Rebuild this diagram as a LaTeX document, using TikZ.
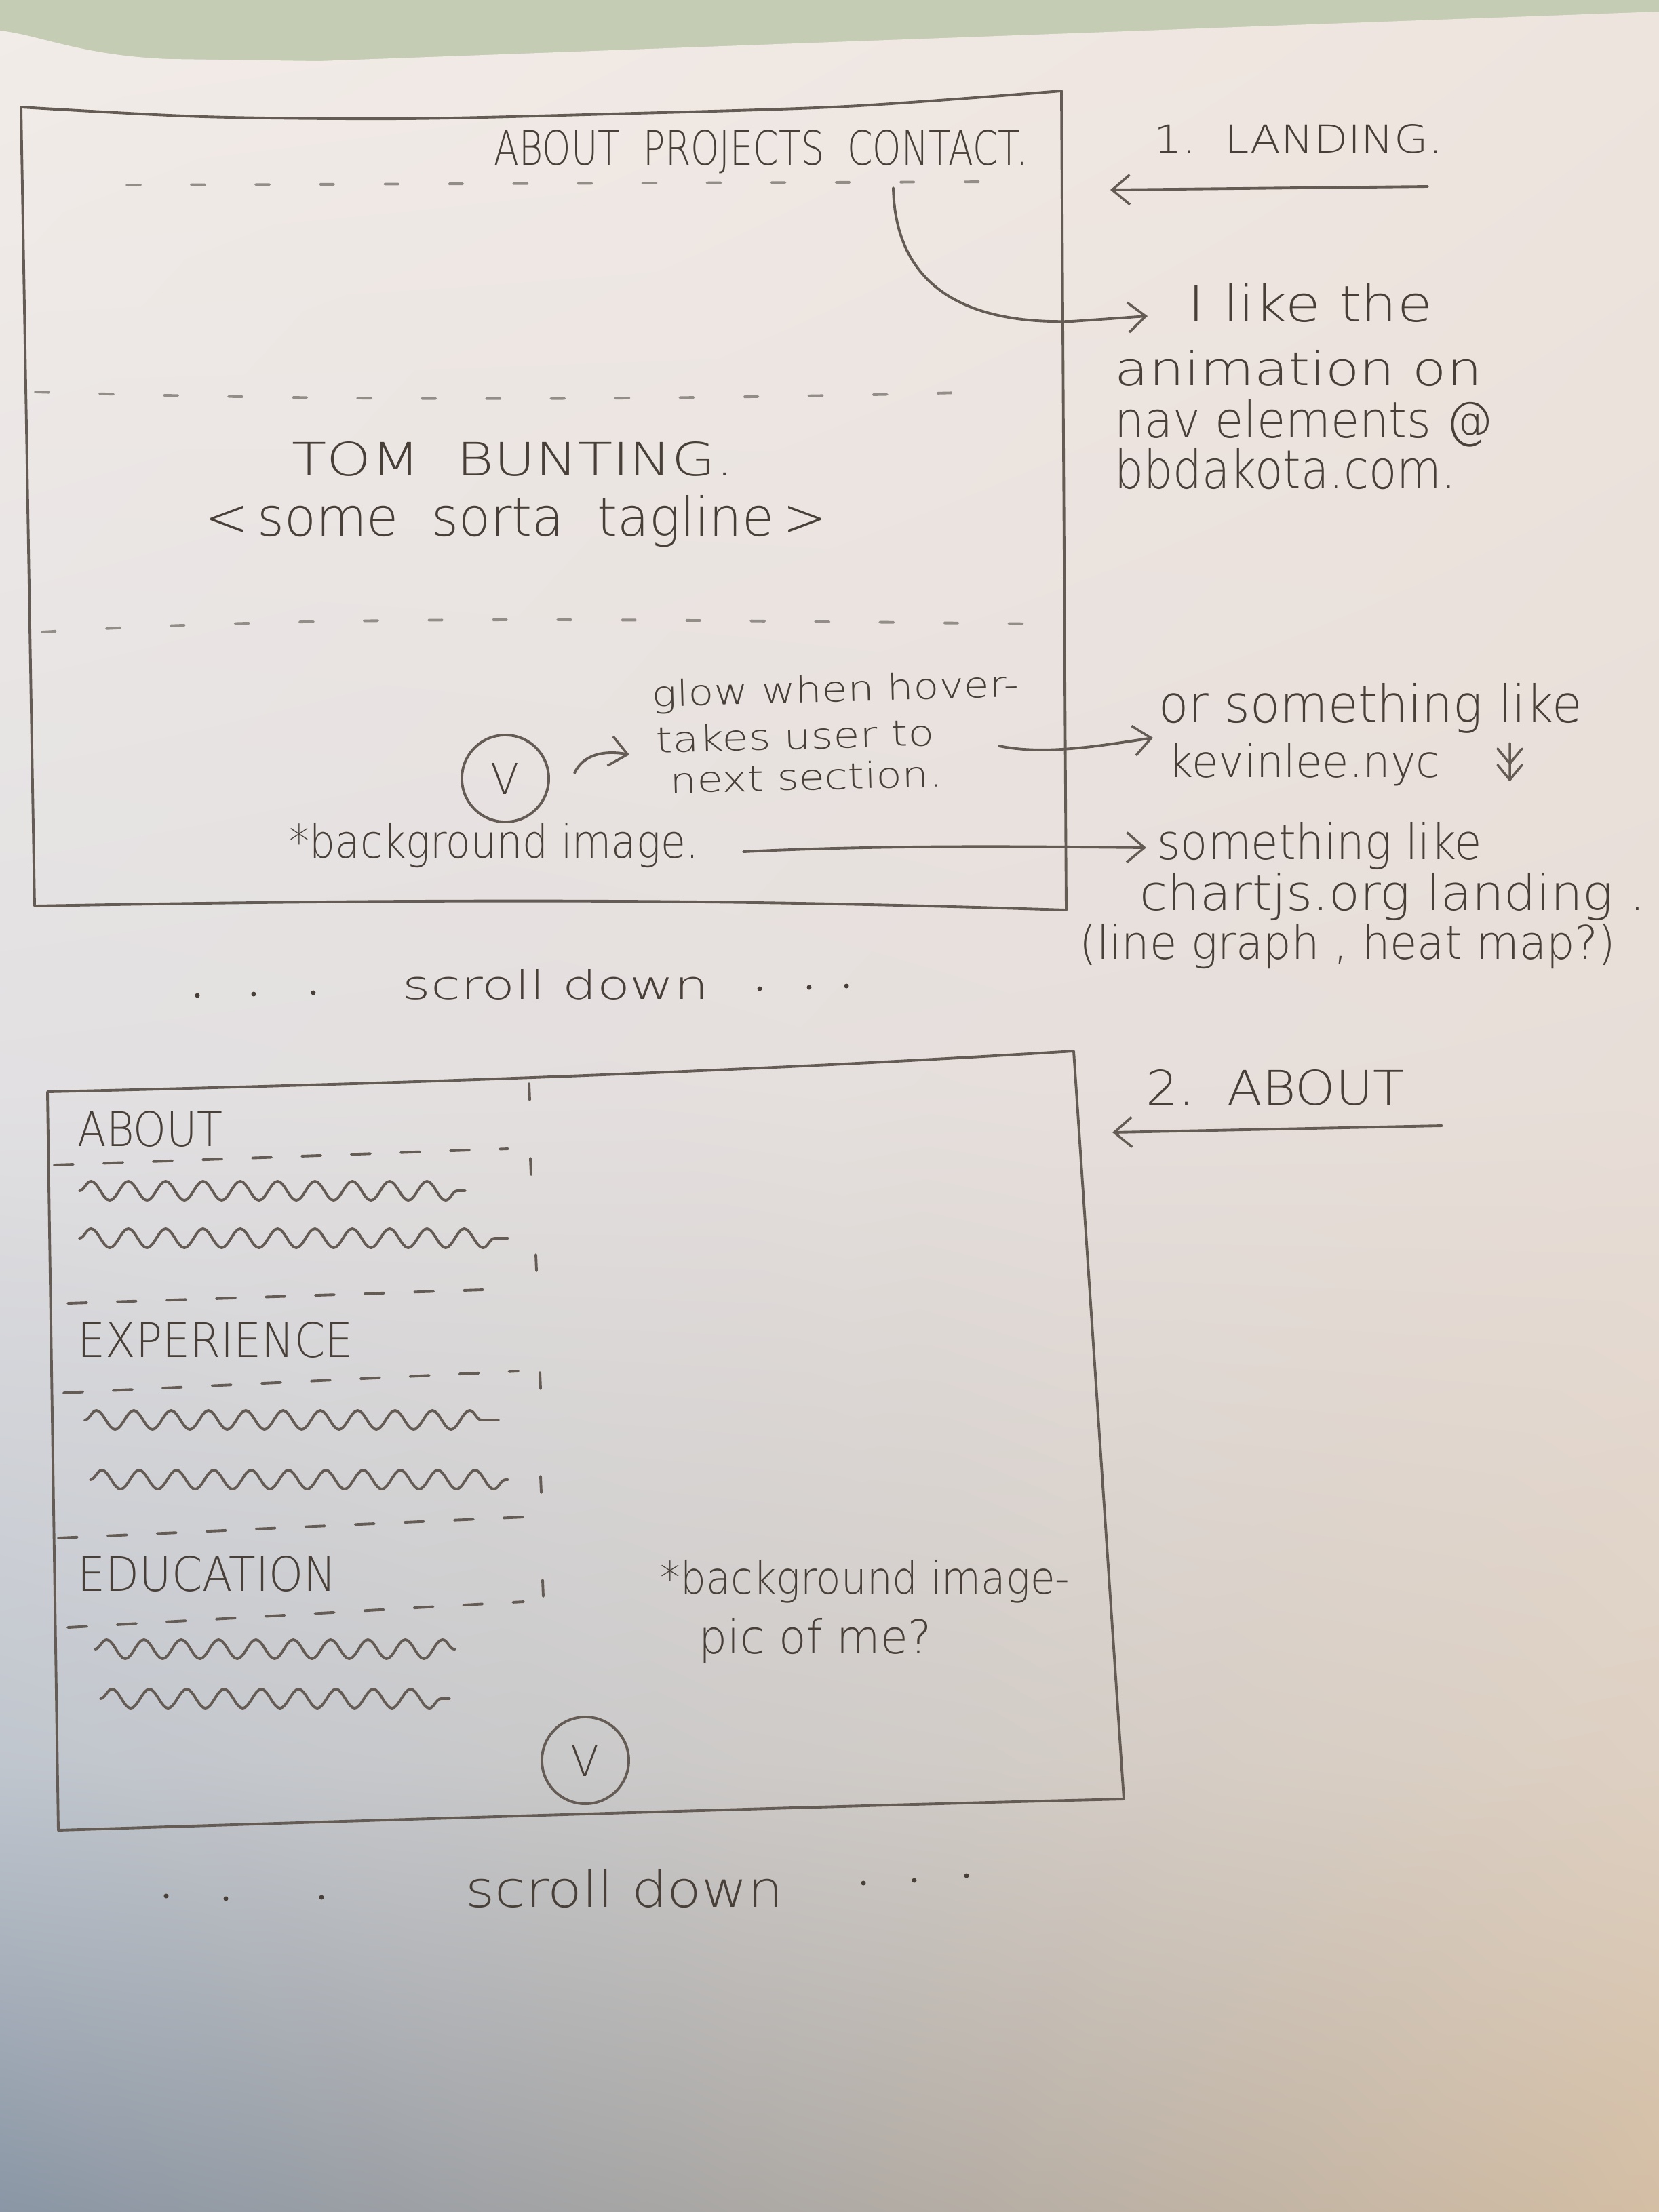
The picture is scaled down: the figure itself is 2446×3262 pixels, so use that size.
\documentclass[tikz,border=0pt]{standalone}
\usepackage{fontspec}
\setmainfont{DejaVuSans-ExtraLight.ttf}
\usepackage{graphicx}
\usetikzlibrary{arrows.meta,decorations.pathmorphing,shadings,calc}

\definecolor{pencil}{RGB}{100,92,84}
\definecolor{ink}{RGB}{72,64,56}
\definecolor{wall}{RGB}{196,204,180}

% hand-lettered text squeezed to a given width and height
\newcommand{\hw}[3]{\resizebox{#1}{#2}{#3}}

\tikzset{
  pen/.style={draw=pencil, line width=1.1pt, line cap=round, line join=round},
  faint/.style={pen, draw=pencil!70, dash pattern=on 0.2cm off 0.75cm},
  gaps/.style={pen, dash pattern=on 0.28cm off 0.45cm},
  lbl/.style={anchor=base west, inner sep=0pt, text=ink},
  barb/.style={-{Straight Barb[length=0.26cm,width=0.44cm,line width=1pt]}},
  wave/.style={pen, decorate, decoration={snake, segment length=0.55cm, amplitude=0.14cm}},
  btn/.style={circle, draw=pencil, line width=1.1pt, minimum size=1.28cm, inner sep=0pt, text=ink},
}

\begin{document}
\begin{tikzpicture}[x=0.01cm,y=-0.01cm]
\useasboundingbox (0,0) rectangle (2446,3262);

% ---------- wall and sheet of paper ----------
\fill[wall] (0,0) rectangle (2446,3262);
\shade[shading=bilinear interpolation,
  upper left={rgb,255:red,242;green,236;blue,232}, upper right={rgb,255:red,238;green,228;blue,222},
  lower left={rgb,255:red,226;green,224;blue,226}, lower right={rgb,255:red,232;green,222;blue,216}]
  (0,45) .. controls (60,52) and (120,82) .. (250,87) -- (470,90) -- (2446,17) -- (2446,1601) -- (0,1601) -- cycle;
\shade[shading=bilinear interpolation,
  upper left={rgb,255:red,226;green,224;blue,226}, upper right={rgb,255:red,232;green,222;blue,216},
  lower left={rgb,255:red,192;green,198;blue,206}, lower right={rgb,255:red,222;green,208;blue,194}]
  (0,1600) rectangle (2446,2601);
\shade[shading=bilinear interpolation,
  upper left={rgb,255:red,192;green,198;blue,206}, upper right={rgb,255:red,222;green,208;blue,194},
  lower left={rgb,255:red,138;green,150;blue,165}, lower right={rgb,255:red,212;green,190;blue,164}]
  (0,2600) rectangle (2446,3262);

% ================= 1. landing page =================
\draw[pen] plot[smooth] coordinates {(31,158) (300,172) (593,175) (900,168) (1248,157) (1565,134)}
  -- (1572,1342) .. controls (1200,1330) and (800,1322) .. (51,1336) -- cycle;

\node[lbl] (nav) at (728,243) {\hw{7.86cm}{0.52cm}{ABOUT~~PROJECTS~~CONTACT.}};
\draw[faint] (187,273) -- (1473,268);
\draw[faint] (52,578) .. controls (500,592) and (1000,590) .. (1456,578);
\draw[faint] (62,932) .. controls (500,905) and (1000,915) .. (1540,920);

\node[lbl] (name) at (430,701) {\hw{6.51cm}{0.5cm}{TOM~~BUNTING.}};
\node[lbl] (tag) at (302,790) {\hw{9.15cm}{0.6cm}{<\,some~~sorta~~tagline\,>}};

\node[btn] (btn1) at (745,1148) {\hw{0.42cm}{0.46cm}{V}};
\node[lbl, rotate=1.5] (glow) at (961,1042) {\hw{5.41cm}{0.4cm}{glow when hover-}};
\node[lbl, rotate=1.5] (takes) at (967,1110) {\hw{4.1cm}{0.4cm}{takes user to}};
\node[lbl, rotate=1.5] (next) at (988,1170) {\hw{4.01cm}{0.4cm}{next section.}};
\coordinate (glowtip) at (928,1113);
\draw[pen, barb] (btn1.east) ++(36,-8) .. controls (860,1112) and (892,1106) .. (glowtip);

\node[lbl] (bg1) at (426,1265) {\hw{6.03cm}{0.52cm}{*background image.}};

\node[lbl] (scroll1) at (593,1473) {\hw{4.51cm}{0.44cm}{scroll down}};
\foreach \p in {(291,1468),(374,1466),(462,1464),(1120,1458),(1193,1456),(1248,1454)}
  \fill[ink] \p circle[radius=0.035cm];

% ---------- notes beside the landing page ----------
\node[lbl] (step1) at (1701,225) {\hw{4.25cm}{0.42cm}{1.~~LANDING.}};
\coordinate (land0) at (2105,275);
\coordinate (land1) at (1637,280);
\draw[pen, barb] (land0) -- (land1);

\node[lbl] (like1) at (1751,474) {\hw{3.6cm}{0.56cm}{I like the}};
\node[lbl] (like2) at (1643,568) {\hw{5.41cm}{0.52cm}{animation on}};
\node[lbl] (like3) at (1643,645) {\hw{5.57cm}{0.56cm}{nav elements @}};
\node[lbl] (like4) at (1643,720) {\hw{5.03cm}{0.6cm}{bbdakota.com.}};
\coordinate (navfrom) at (1317,277);
\coordinate (navto) at (1692,466);
\draw[pen, barb] (navfrom) .. controls (1320,420) and (1420,478) .. (1580,474) -- (navto);

\node[lbl] (kev1) at (1708,1065) {\hw{6.24cm}{0.58cm}{or something like}};
\node[lbl] (kev2) at (1722,1146) {\hw{4.0cm}{0.5cm}{kevinlee.nyc}};
\coordinate (kevfrom) at (1473,1100);
\coordinate (kevto) at (1700,1088);
\draw[pen, barb] (kevfrom) .. controls (1540,1114) and (1620,1100) .. (kevto);
% double-chevron scroll mark
\draw[pen, line width=1pt] (2226,1096) -- (2226,1150)
  (2208,1104) -- (2226,1126) -- (2244,1104)
  (2208,1128) -- (2226,1150) -- (2244,1128);

\node[lbl] (chart1) at (1706,1267) {\hw{4.78cm}{0.55cm}{something like}};
\node[lbl] (chart2) at (1680,1342) {\hw{7.45cm}{0.55cm}{chartjs.org~landing~.}};
\node[lbl] (chart3) at (1591,1414) {\hw{7.9cm}{0.52cm}{(line graph~, heat map?)}};
\coordinate (bgfrom) at (1096,1256);
\coordinate (bgto) at (1690,1250);
\draw[pen, barb] (bgfrom) .. controls (1300,1246) and (1500,1248) .. (bgto);

% ================= 2. about section =================
\draw[pen] (70,1610) .. controls (600,1598) and (1100,1580) .. (1583,1550)
  -- (1657,2653) .. controls (1200,2664) and (700,2680) .. (86,2699) -- cycle;

\node[lbl] (step2) at (1689,1629) {\hw{3.81cm}{0.52cm}{2.~~ABOUT}};
\coordinate (about0) at (2126,1660);
\coordinate (about1) at (1640,1670);
\draw[pen, barb] (about0) -- (about1);

% column divider
\foreach \x/\y in {780/1610, 782/1720, 790/1862, 796/2036, 797/2189, 800/2342}
  \draw[pen] (\x,\y-12) -- (\x+1,\y+12);

\node[lbl] (h1) at (114,1690) {\hw{2.14cm}{0.52cm}{ABOUT}};
\draw[gaps] (80,1718) -- (749,1694);
\draw[wave] (117,1756) -- (686,1756);
\draw[wave] (117,1826) -- (749,1826);
\draw[gaps] (100,1922) -- (712,1902);

\node[lbl] (h2) at (114,2001) {\hw{4.06cm}{0.52cm}{EXPERIENCE}};
\draw[gaps] (94,2054) -- (764,2022);
\draw[wave] (125,2094) -- (735,2094);
\draw[wave] (133,2182) -- (749,2182);
\draw[gaps] (86,2268) -- (796,2236);

\node[lbl] (h3) at (114,2346) {\hw{3.81cm}{0.52cm}{EDUCATION}};
\draw[gaps] (100,2400) -- (772,2362);
\draw[wave] (140,2432) -- (671,2432);
\draw[wave] (148,2505) -- (663,2505);

\node[lbl] (bg2a) at (973,2350) {\hw{6.03cm}{0.5cm}{*background image-}};
\node[lbl] (bg2b) at (1030,2438) {\hw{3.43cm}{0.52cm}{pic of me?}};

\node[btn] (btn2) at (863,2596) {\hw{0.42cm}{0.46cm}{V}};

\node[lbl] (scroll2) at (686,2812) {\hw{4.68cm}{0.56cm}{scroll down}};
\foreach \p in {(245,2796),(333,2800),(474,2798),(1273,2777),(1348,2773),(1425,2766)}
  \fill[ink] \p circle[radius=0.035cm];

\end{tikzpicture}
\end{document}
